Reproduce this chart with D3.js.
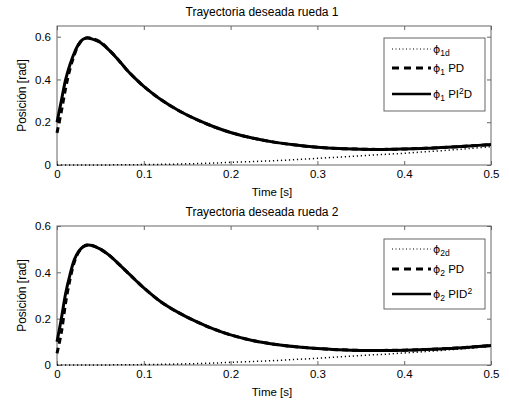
<!DOCTYPE html>
<html>
<head>
<meta charset="utf-8">
<script src="https://cdn.jsdelivr.net/npm/d3@7/dist/d3.min.js"></script>
<style>
  body { margin: 0; background: #fff; }
  svg { display: block; }
  text { font-family: "Liberation Sans", Arial, sans-serif; }
</style>
</head>
<body>
<div id="chart"></div>
<script>
// time samples [s]
const time = [0, 0.005, 0.01, 0.015, 0.02, 0.025, 0.03, 0.035, 0.04, 0.05, 0.06, 0.07, 0.08, 0.09, 0.1,
    0.12, 0.14, 0.16, 0.18, 0.2, 0.225, 0.25, 0.275, 0.3, 0.325, 0.35, 0.375, 0.4, 0.425, 0.45, 0.475, 0.5];

// wheel 1
const desired1 = [0, 0, 0, 0, 0, 0, 0, 0, 0, 0.0003, 0.0005, 0.0007, 0.001, 0.0015, 0.002,
    0.003, 0.0045, 0.0065, 0.009, 0.0125, 0.016, 0.02, 0.025, 0.031, 0.037, 0.043, 0.049, 0.055, 0.062, 0.069, 0.077, 0.086];
const pd1 = [0.15, 0.25, 0.36, 0.45, 0.515, 0.563, 0.588, 0.595, 0.592, 0.575, 0.538, 0.495, 0.447, 0.405, 0.368,
    0.305, 0.255, 0.214, 0.18, 0.152, 0.126, 0.107, 0.093, 0.083, 0.077, 0.074, 0.073, 0.075, 0.078, 0.083, 0.089, 0.096];
const pi2d1 = [0.2, 0.3, 0.4, 0.47, 0.525, 0.565, 0.588, 0.594, 0.59, 0.573, 0.537, 0.495, 0.447, 0.405, 0.368,
    0.305, 0.255, 0.214, 0.18, 0.152, 0.126, 0.107, 0.093, 0.083, 0.077, 0.074, 0.073, 0.075, 0.078, 0.083, 0.089, 0.096];

// wheel 2
const desired2 = [0, 0, 0, 0, 0, 0, 0, 0, 0, 0.0003, 0.0005, 0.0007, 0.001, 0.0014, 0.0019,
    0.0028, 0.0042, 0.006, 0.0083, 0.0115, 0.015, 0.019, 0.024, 0.029, 0.035, 0.041, 0.046, 0.052, 0.058, 0.065, 0.072, 0.08];
const pd2 = [0.05, 0.14, 0.27, 0.37, 0.445, 0.488, 0.51, 0.519, 0.517, 0.5, 0.474, 0.44, 0.404, 0.368, 0.333,
    0.272, 0.226, 0.188, 0.156, 0.13, 0.106, 0.09, 0.079, 0.071, 0.066, 0.063, 0.063, 0.064, 0.067, 0.071, 0.077, 0.084];
const pid2 = [0.1, 0.2, 0.31, 0.39, 0.455, 0.49, 0.51, 0.517, 0.516, 0.5, 0.474, 0.44, 0.404, 0.368, 0.333,
    0.272, 0.226, 0.188, 0.156, 0.13, 0.106, 0.09, 0.079, 0.071, 0.066, 0.063, 0.063, 0.064, 0.067, 0.071, 0.077, 0.084];

const xTicks = [0, 0.1, 0.2, 0.3, 0.4, 0.5];
const yTicks = [0, 0.2, 0.4, 0.6];
const titles = ["Trayectoria deseada rueda 1", "Trayectoria deseada rueda 2"];
const legend1 = [
    [["ϕ", "phi"], ["1d", "sub"]],
    [["ϕ", "phi"], ["1", "sub"], [" PD", ""]],
    [["ϕ", "phi"], ["1", "sub"], [" PI", ""], ["2", "sup"], ["D", ""]]
];
const legend2 = [
    [["ϕ", "phi"], ["2d", "sub"]],
    [["ϕ", "phi"], ["2", "sub"], [" PD", ""]],
    [["ϕ", "phi"], ["2", "sub"], [" PID", ""], ["2", "sup"]]
];

const W = 509, H = 405;
const svg = d3.select("#chart").append("svg")
    .attr("width", W)
    .attr("height", H);
svg.append("rect").attr("width", W).attr("height", H).attr("fill", "#fff");

const axisColor = "#666";
const lineStyles = [
    { dash: "1.2,2.8", width: 1.5 },   // desired
    { dash: "6,4", width: 3 },         // PD
    { dash: null, width: 3 }           // PI2D / PID2
];

function drawPanel(p) {
    const left = 57, right = 491;
    var x = d3.scaleLinear().domain([0, 0.5]).range([left, right]);
    var y = d3.scaleLinear().domain([0, p.yMax]).range([p.bottom, p.top]);

    var g = svg.append("g");

    // Title
    g.append("text")
        .attr("x", 262).attr("y", p.top - 10)
        .attr("text-anchor", "middle")
        .style("font-size", "12px")
        .text(p.title);

    // Axes (ticks inside, on all four sides)
    var xb = g.append("g").attr("transform", "translate(0," + p.bottom + ")")
        .call(d3.axisBottom(x).tickValues(xTicks).tickSizeInner(-4).tickSizeOuter(0)
            .tickPadding(5).tickFormat(d => d));
    var xt = g.append("g").attr("transform", "translate(0," + p.top + ")")
        .call(d3.axisTop(x).tickValues(xTicks).tickSizeInner(-4).tickSizeOuter(0).tickFormat(""));
    var yl = g.append("g").attr("transform", "translate(" + left + ",0)")
        .call(d3.axisLeft(y).tickValues(yTicks).tickSizeInner(-4).tickSizeOuter(0)
            .tickPadding(6).tickFormat(d => d));
    var yr = g.append("g").attr("transform", "translate(" + right + ",0)")
        .call(d3.axisRight(y).tickValues(yTicks).tickSizeInner(-4).tickSizeOuter(0).tickFormat(""));

    [xb, xt, yl, yr].forEach(function(a) {
        a.select(".domain").remove();
        a.selectAll(".tick line").attr("stroke", axisColor);
        a.selectAll("text")
            .style("font-family", "'Liberation Sans', Arial, sans-serif")
            .style("font-size", "11.5px")
            .attr("fill", "#000");
    });

    // Frame
    g.append("rect")
        .attr("x", left).attr("y", p.top)
        .attr("width", right - left).attr("height", p.bottom - p.top)
        .attr("fill", "none").attr("stroke", axisColor).attr("stroke-width", 1);

    // Axis labels
    g.append("text")
        .attr("x", 272).attr("y", p.bottom + 31)
        .attr("text-anchor", "middle")
        .style("font-size", "11.5px")
        .text("Time [s]");
    g.append("text")
        .attr("transform", "translate(26," + (p.top + p.bottom) / 2 + ") rotate(-90)")
        .attr("text-anchor", "middle")
        .style("font-size", "12px")
        .text("Posición [rad]");

    // Curves
    var line = d3.line()
        .x(function(d) { return x(d[0]); })
        .y(function(d) { return y(d[1]); })
        .curve(d3.curveCatmullRom.alpha(0.5));

    p.series.forEach(function(s, i) {
        var pts = time.map(function(t, k) { return [t, s[k]]; });
        g.append("path")
            .datum(pts)
            .attr("d", line)
            .attr("fill", "none")
            .attr("stroke", "#000")
            .attr("stroke-width", lineStyles[i].width)
            .attr("stroke-dasharray", lineStyles[i].dash)
            .attr("stroke-linejoin", "round");
    });

    // Legend
    var lg = g.append("g");
    lg.append("rect")
        .attr("x", 384).attr("y", p.legendTop)
        .attr("width", 101).attr("height", p.legendH)
        .attr("fill", "#fff").attr("stroke", axisColor).attr("stroke-width", 1);

    p.legend.forEach(function(parts, i) {
        var ly = p.legendRows[i];
        lg.append("line")
            .attr("x1", 392).attr("x2", 431)
            .attr("y1", ly).attr("y2", ly)
            .attr("stroke", "#000")
            .attr("stroke-width", i === 0 ? 1.2 : (i === 1 ? 3 : 2.5))
            .attr("stroke-dasharray", i === 0 ? "1,2.5" : (i === 1 ? "7,5" : null));
        var t = lg.append("text")
            .attr("x", 433).attr("y", ly + 4)
            .attr("fill", "#000")
            .style("font-size", "11.5px");
        var shift = 0;
        parts.forEach(function(pt) {
            var dy = 0, size = "11.5px";
            if (pt[1] === "sub") { dy = 3 - shift; shift = 3; size = "8.5px"; }
            else if (pt[1] === "sup") { dy = -4 - shift; shift = -4; size = "8.5px"; }
            else { dy = -shift; shift = 0; }
            var ts = t.append("tspan").attr("dy", dy).attr("fill", "#000").style("font-size", size).text(pt[0]);
            if (pt[1] === "phi") ts.style("font-family", "'DejaVu Sans', sans-serif").style("font-size", "11px");
        });
    });
}

drawPanel({
    title: titles[0], top: 26, bottom: 165, yMax: 0.65,
    series: [desired1, pd1, pi2d1], legend: legend1,
    legendTop: 38, legendH: 73, legendRows: [49, 68, 94]
});
drawPanel({
    title: titles[1], top: 226, bottom: 365, yMax: 0.6,
    series: [desired2, pd2, pid2], legend: legend2,
    legendTop: 239, legendH: 70, legendRows: [249, 269, 294]
});
</script>
</body>
</html>
